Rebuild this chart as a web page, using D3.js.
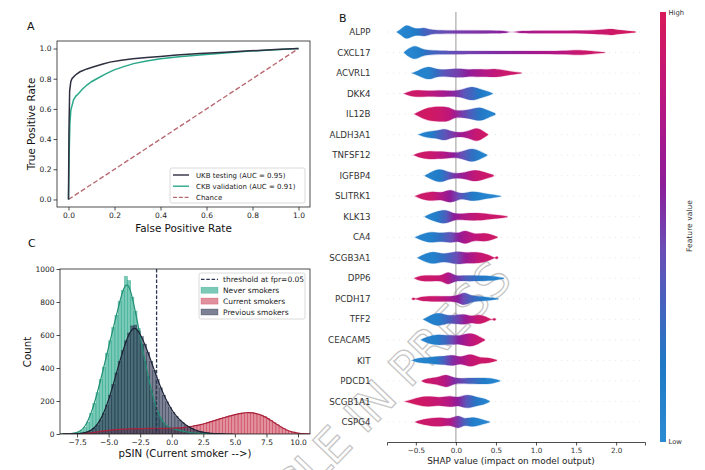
<!DOCTYPE html>
<html>
<head>
<meta charset="utf-8">
<script src="https://cdn.jsdelivr.net/npm/d3@7"></script>
<style>
  body { margin: 0; background: #fff; }
  svg { display: block; font-family: "DejaVu Sans", sans-serif; }
</style>
</head>
<body>
<svg id="chart" width="705" height="470"></svg>
<script>
// ---- Panel A: ROC curves ----
var rocTicks = [0, 0.2, 0.4, 0.6, 0.8, 1.0];
var ukbFpr = [0, 0.002, 0.005, 0.01, 0.015, 0.03, 0.05, 0.08, 0.11, 0.15, 0.18, 0.23, 0.28, 0.34, 0.40, 0.47, 0.57, 0.68, 0.79, 0.90, 1.0];
var ukbTpr = [0, 0.45, 0.72, 0.78, 0.80, 0.825, 0.846, 0.865, 0.879, 0.897, 0.910, 0.922, 0.932, 0.940, 0.948, 0.958, 0.967, 0.975, 0.985, 0.993, 1.0];
var ckbFpr = [0, 0.003, 0.006, 0.01, 0.015, 0.022, 0.032, 0.043, 0.06, 0.08, 0.10, 0.123, 0.16, 0.196, 0.24, 0.283, 0.34, 0.40, 0.48, 0.57, 0.68, 0.79, 0.90, 1.0];
var ckbTpr = [0, 0.30, 0.50, 0.59, 0.62, 0.66, 0.685, 0.70, 0.73, 0.758, 0.78, 0.80, 0.83, 0.857, 0.88, 0.90, 0.918, 0.932, 0.945, 0.958, 0.970, 0.983, 0.992, 1.0];
var rocLegend = ["UKB testing  (AUC = 0.95)", "CKB validation (AUC = 0.91)", "Chance"];

// ---- Panel C: pSIN histograms (bin width 0.25) ----
var binWidth = 0.25;
var histTicks = [-7.5, -5.0, -2.5, 0.0, 2.5, 5.0, 7.5, 10.0];
var countTicks = [0, 200, 400, 600, 800, 1000];
var threshold = -1.2;
var neverStart = -8.5;
var neverCounts = [2, 3, 4, 6, 10, 20, 40, 72, 125, 185,
                   250, 330, 405, 490, 565, 645, 720, 805, 870, 955,
                   930, 830, 745, 640, 545, 440, 350, 262, 190, 130,
                   90, 62, 46, 37, 31, 27, 22, 17, 13, 10,
                   7, 5, 4, 3, 2, 1, 1];
var currentStart = -7.75;
var currentCounts = [1, 1, 2, 3, 5, 7, 10, 13, 16, 19,
                     21, 23, 25, 27, 28, 29, 30, 31, 32, 32,
                     33, 33, 33, 34, 34, 34, 34, 34, 34, 34,
                     35, 35, 36, 37, 39, 41, 44, 47, 50, 54,
                     58, 63, 69, 75, 81, 87, 93, 99, 104, 110,
                     115, 120, 124, 127, 129, 132, 129, 126, 121, 114,
                     105, 94, 82, 69, 56, 43, 32, 23, 16, 10,
                     6, 4, 2, 1];
var previousStart = -7.75;
var previousCounts = [1, 2, 4, 7, 12, 20, 35, 55, 85, 125,
                      175, 235, 300, 370, 440, 505, 565, 612, 655, 660,
                      625, 590, 545, 495, 440, 385, 330, 280, 235, 195,
                      160, 130, 105, 85, 68, 53, 41, 31, 23, 17,
                      12, 8, 6, 4, 3, 2, 1];
var histLegend = ["threshold at fpr=0.05", "Never smokers", "Current smokers", "Previous smokers"];

// ---- Panel B: SHAP layered violins, knots = [shap value, relative density, feature value] ----
var features = ["ALPP", "CXCL17", "ACVRL1", "DKK4", "IL12B", "ALDH3A1", "TNFSF12", "IGFBP4", "SLITRK1", "KLK13",
                "CA4", "SCGB3A1", "DPP6", "PCDH17", "TFF2", "CEACAM5", "KIT", "PDCD1", "SCGB1A1", "CSPG4"];
var shapTicks = [-0.5, 0.0, 0.5, 1.0, 1.5, 2.0];
var shapProfiles = [
  [[-0.74,0,0.05],[-0.69,0.3,0.05],[-0.62,1.0,0.08],[-0.55,0.55,0.12],[-0.47,0.35,0.2],[-0.40,0.6,0.3],[-0.33,0.3,0.35],[-0.25,0.22,0.4],[0,0.2,0.5],[0.4,0.18,0.55],[0.62,0.15,0.6],[0.655,0,0.6],[0.70,0,0.65],[0.745,0,0.7],[0.78,0.15,0.7],[1.2,0.18,0.78],[1.6,0.15,0.85],[1.85,0.3,0.9],[1.93,0.42,0.92],[2.02,0.25,0.94],[2.24,0.05,0.95]],
  [[-0.65,0,0.05],[-0.6,0.45,0.05],[-0.51,0.95,0.08],[-0.44,0.5,0.15],[-0.37,0.3,0.25],[-0.2,0.22,0.35],[0,0.2,0.45],[0.5,0.18,0.55],[1.0,0.17,0.7],[1.35,0.2,0.8],[1.52,0.32,0.88],[1.62,0.25,0.9],[1.86,0.03,0.92]],
  [[-0.55,0,0.05],[-0.48,0.25,0.08],[-0.34,0.95,0.1],[-0.25,0.45,0.25],[-0.15,0.4,0.4],[0.03,0.6,0.5],[0.15,0.4,0.6],[0.26,0.5,0.7],[0.38,0.42,0.78],[0.5,0.55,0.85],[0.62,0.3,0.9],[0.82,0.03,0.92]],
  [[-0.65,0,0.9],[-0.58,0.3,0.92],[-0.47,0.45,0.92],[-0.36,0.32,0.85],[-0.22,0.42,0.75],[-0.1,0.35,0.65],[0.0,0.35,0.55],[0.1,0.55,0.4],[0.2,0.95,0.3],[0.3,0.55,0.18],[0.38,0.35,0.1],[0.46,0.03,0.05]],
  [[-0.52,0,0.92],[-0.45,0.35,0.92],[-0.35,0.85,0.95],[-0.2,0.95,0.9],[-0.08,0.9,0.82],[-0.02,0.4,0.7],[0.08,0.45,0.5],[0.18,0.55,0.35],[0.3,0.95,0.2],[0.4,0.45,0.1],[0.49,0.1,0.05]],
  [[-0.47,0,0.1],[-0.4,0.3,0.1],[-0.3,0.45,0.15],[-0.22,0.5,0.3],[-0.14,0.8,0.4],[-0.05,0.35,0.5],[0.05,0.25,0.65],[0.15,0.4,0.75],[0.26,0.95,0.88],[0.34,0.45,0.92],[0.4,0.05,0.95]],
  [[-0.53,0,0.92],[-0.46,0.3,0.92],[-0.33,0.55,0.9],[-0.22,0.42,0.82],[-0.14,0.45,0.75],[-0.03,0.28,0.6],[0.07,0.4,0.45],[0.2,0.95,0.25],[0.3,0.5,0.12],[0.39,0.05,0.08]],
  [[-0.39,0,0.1],[-0.33,0.35,0.1],[-0.2,0.95,0.15],[-0.1,0.45,0.35],[0.0,0.25,0.55],[0.12,0.4,0.7],[0.24,0.8,0.85],[0.35,0.45,0.9],[0.47,0.08,0.92]],
  [[-0.51,0,0.92],[-0.45,0.3,0.92],[-0.3,0.65,0.9],[-0.18,0.35,0.75],[-0.07,0.95,0.6],[0.03,0.35,0.45],[0.12,0.4,0.3],[0.22,0.65,0.15],[0.35,0.35,0.08],[0.45,0.22,0.05],[0.56,0.04,0.05]],
  [[-0.39,0,0.08],[-0.33,0.35,0.08],[-0.24,0.65,0.15],[-0.12,0.95,0.35],[-0.02,0.3,0.6],[0.1,0.42,0.75],[0.28,0.5,0.88],[0.42,0.3,0.9],[0.55,0.2,0.92],[0.64,0.05,0.95]],
  [[-0.51,0,0.08],[-0.44,0.35,0.08],[-0.3,0.75,0.12],[-0.2,0.45,0.25],[-0.05,0.75,0.45],[0.03,0.4,0.6],[0.11,1.0,0.72],[0.22,0.32,0.82],[0.36,0.58,0.9],[0.45,0.3,0.92],[0.52,0.04,0.95]],
  [[-0.48,0,0.08],[-0.42,0.35,0.08],[-0.28,0.9,0.1],[-0.16,0.35,0.25],[0.01,0.9,0.45],[0.12,0.6,0.65],[0.28,0.75,0.85],[0.4,0.4,0.9],[0.47,0.06,0.92],[0.49,0,0.95],[0.51,0.22,0.95],[0.53,0,0.95]],
  [[-0.52,0,0.92],[-0.45,0.35,0.92],[-0.3,0.38,0.9],[-0.17,0.28,0.85],[-0.1,0.95,0.75],[-0.01,0.25,0.55],[0.12,0.38,0.35],[0.3,0.32,0.2],[0.45,0.32,0.1],[0.6,0.04,0.05]],
  [[-0.55,0,0.95],[-0.53,0.22,0.95],[-0.51,0,0.95],[-0.48,0.1,0.92],[-0.42,0.3,0.92],[-0.25,0.35,0.88],[-0.1,0.3,0.75],[0.02,0.35,0.6],[0.1,0.95,0.45],[0.2,0.3,0.3],[0.35,0.28,0.15],[0.53,0.04,0.08]],
  [[-0.41,0,0.1],[-0.35,0.35,0.1],[-0.22,0.95,0.12],[-0.1,0.4,0.3],[0.04,0.6,0.5],[0.12,0.65,0.65],[0.2,0.35,0.78],[0.28,0.65,0.88],[0.37,0.35,0.92],[0.43,0.05,0.95],[0.46,0,0.95],[0.48,0.22,0.95],[0.5,0,0.95]],
  [[-0.44,0,0.1],[-0.37,0.35,0.1],[-0.24,0.7,0.12],[-0.12,0.55,0.3],[-0.05,0.62,0.45],[0.04,0.45,0.6],[0.18,0.95,0.8],[0.28,0.5,0.88],[0.36,0.06,0.92]],
  [[-0.55,0,0.05],[-0.48,0.3,0.05],[-0.35,0.35,0.1],[-0.25,0.5,0.15],[-0.14,0.5,0.35],[-0.04,0.75,0.55],[0.06,0.3,0.7],[0.18,0.95,0.85],[0.29,0.32,0.9],[0.38,0.4,0.92],[0.51,0.05,0.95]],
  [[-0.43,0,0.92],[-0.36,0.35,0.92],[-0.22,0.4,0.85],[-0.12,0.95,0.75],[-0.02,0.25,0.55],[0.15,0.38,0.35],[0.35,0.38,0.15],[0.45,0.35,0.08],[0.55,0.05,0.05]],
  [[-0.64,0,0.95],[-0.55,0.25,0.95],[-0.37,0.75,0.92],[-0.2,0.42,0.85],[-0.07,0.78,0.75],[0.02,0.4,0.6],[0.13,0.95,0.4],[0.25,0.55,0.2],[0.35,0.4,0.1],[0.42,0.05,0.05]],
  [[-0.51,0,0.92],[-0.42,0.35,0.92],[-0.2,0.65,0.88],[-0.07,0.32,0.75],[0.03,0.95,0.5],[0.1,0.32,0.35],[0.2,0.65,0.15],[0.3,0.4,0.08],[0.42,0.05,0.05]]
];

// ---- styles ----
var axisColor = '#222';
var ukbColor = '#2e2f40', ckbColor = '#2aa88a', chanceColor = '#b86a72';
var neverColor = '#2aa88a', currentColor = '#c9364e', previousColor = '#2b3550';
var cmapStops = [0, 0.18, 0.45, 0.6, 0.8, 1];
var cmapColors = ['#2a8bd2', '#1f79c6', '#6a4db6', '#8d1c99', '#bb1680', '#d81a58'];

var svg = d3.select('#chart');
var defs = svg.append('defs');

function styleAxis(g) {
  g.selectAll('path.domain').remove();
  g.selectAll('.tick line').attr('stroke', axisColor).attr('stroke-width', 0.8);
  g.selectAll('.tick text').attr('fill', axisColor).attr('font-family', '"DejaVu Sans", sans-serif');
}

function panelLabel(txt, x, y) {
  svg.append('text').attr('x', x).attr('y', y).attr('font-size', 11).attr('fill', '#111').text(txt);
}

// watermark sits behind the panels' text
svg.append('text').attr('transform', 'translate(514,281) rotate(-46)').attr('text-anchor', 'end')
  .attr('font-size', 47).attr('fill', 'none').attr('stroke', '#c6c6c6').attr('stroke-width', 1.3)
  .text('ARTICLE IN PRESS');

// ================= Panel A =================
var xA = d3.scaleLinear().domain([-0.05, 1.05]).range([57, 310]);
var yA = d3.scaleLinear().domain([-0.05, 1.05]).range([207, 41]);
var gA = svg.append('g');
panelLabel('A', 27, 30);

gA.append('g').attr('transform', 'translate(0,207)')
  .call(d3.axisBottom(xA).tickValues(rocTicks).tickFormat(d3.format('.1f')).tickSize(3.5).tickPadding(2))
  .call(styleAxis).selectAll('text').attr('font-size', 7.5);
gA.append('g').attr('transform', 'translate(57,0)')
  .call(d3.axisLeft(yA).tickValues(rocTicks).tickFormat(d3.format('.1f')).tickSize(3.5).tickPadding(2))
  .call(styleAxis).selectAll('text').attr('font-size', 7.5);

var rocLine = d3.line().x(function(d) { return xA(d[0]); }).y(function(d) { return yA(d[1]); });
gA.append('path').datum([[0, 0], [1, 1]]).attr('d', rocLine)
  .attr('fill', 'none').attr('stroke', chanceColor).attr('stroke-width', 1.4).attr('stroke-dasharray', '5,2.4');
gA.append('path').datum(d3.zip(ckbFpr, ckbTpr)).attr('d', rocLine)
  .attr('fill', 'none').attr('stroke', ckbColor).attr('stroke-width', 1.5);
gA.append('path').datum(d3.zip(ukbFpr, ukbTpr)).attr('d', rocLine)
  .attr('fill', 'none').attr('stroke', ukbColor).attr('stroke-width', 1.5);

gA.append('rect').attr('x', 57).attr('y', 41).attr('width', 253).attr('height', 166)
  .attr('fill', 'none').attr('stroke', axisColor).attr('stroke-width', 0.8);

gA.append('text').attr('x', 183.5).attr('y', 232).attr('text-anchor', 'middle').attr('font-size', 10.4)
  .attr('fill', '#111').text('False Positive Rate');
gA.append('text').attr('transform', 'translate(35,124) rotate(-90)').attr('text-anchor', 'middle')
  .attr('font-size', 10.4).attr('fill', '#111').text('True Positive Rate');

// legend A
var legA = gA.append('g');
legA.append('rect').attr('x', 170).attr('y', 168).attr('width', 135).attr('height', 35).attr('rx', 2)
  .attr('fill', '#fff').attr('fill-opacity', 0.8).attr('stroke', '#d0d0d0').attr('stroke-width', 0.8);
var legAStyles = [[ukbColor, null], [ckbColor, null], [chanceColor, '4,1.8']];
rocLegend.forEach(function(t, i) {
  var yy = 175 + i * 11.2;
  legA.append('line').attr('x1', 173).attr('x2', 189).attr('y1', yy).attr('y2', yy)
    .attr('stroke', legAStyles[i][0]).attr('stroke-width', 1.4).attr('stroke-dasharray', legAStyles[i][1]);
  legA.append('text').attr('x', 196).attr('y', yy + 2.5).attr('font-size', 7).attr('fill', '#222').text(t);
});

// ================= Panel C =================
var xC = d3.scaleLinear().domain([-8.85, 10.95]).range([60, 310]);
var yC = d3.scaleLinear().domain([0, 1000]).range([434, 269]);
var gC = svg.append('g');
panelLabel('C', 28, 247);

defs.append('clipPath').attr('id', 'clipC').append('rect')
  .attr('x', 60).attr('y', 269).attr('width', 250).attr('height', 165);

function binsOf(start, counts) {
  return counts.map(function(c, i) { return { x0: start + i * binWidth, n: c }; });
}

// kde-style smooth line from the bin counts (binomial kernel, like a small gaussian)
function smoothOf(bins) {
  var k = [1, 4, 6, 4, 1];
  var pad = [];
  for (var i = -4; i < 0; i++) pad.push({ x0: bins[0].x0 + i * binWidth, n: 0 });
  var ext = pad.concat(bins);
  for (var j = 1; j <= 4; j++) ext.push({ x0: bins[bins.length - 1].x0 + j * binWidth, n: 0 });
  return ext.map(function(b, i) {
    var s = 0;
    for (var m = -2; m <= 2; m++) {
      var e = ext[i + m];
      if (e) s += e.n * k[m + 2];
    }
    return [b.x0 + binWidth / 2, s / 16];
  });
}

var histSeries = [
  { bins: binsOf(neverStart, neverCounts), color: neverColor, alpha: 0.62, line: '#1f8f74' },
  { bins: binsOf(currentStart, currentCounts), color: currentColor, alpha: 0.55, line: '#a8233c' },
  { bins: binsOf(previousStart, previousCounts), color: previousColor, alpha: 0.62, line: '#1b2236' }
];

var histG = gC.append('g').attr('clip-path', 'url(#clipC)');
histSeries.forEach(function(s) {
  histG.append('g').selectAll('rect').data(s.bins).join('rect')
    .attr('x', function(d) { return xC(d.x0); })
    .attr('width', function(d) { return xC(d.x0 + binWidth) - xC(d.x0); })
    .attr('y', function(d) { return yC(d.n); })
    .attr('height', function(d) { return yC(0) - yC(d.n); })
    .attr('fill', s.color).attr('fill-opacity', s.alpha)
    .attr('stroke', s.color).attr('stroke-opacity', 0.75).attr('stroke-width', 0.5);
});
var kdeLine = d3.line().x(function(d) { return xC(d[0]); }).y(function(d) { return yC(d[1]); }).curve(d3.curveBasis);
histSeries.forEach(function(s) {
  histG.append('path').datum(smoothOf(s.bins)).attr('d', kdeLine)
    .attr('fill', 'none').attr('stroke', s.line).attr('stroke-width', 1.2);
});

gC.append('line').attr('x1', xC(threshold)).attr('x2', xC(threshold)).attr('y1', 269).attr('y2', 434)
  .attr('stroke', previousColor).attr('stroke-width', 1.3).attr('stroke-dasharray', '3.5,1.8');

gC.append('g').attr('transform', 'translate(0,434)')
  .call(d3.axisBottom(xC).tickValues(histTicks).tickFormat(d3.format('.1f')).tickSize(3.5).tickPadding(2))
  .call(styleAxis).selectAll('text').attr('font-size', 7.5);
gC.append('g').attr('transform', 'translate(60,0)')
  .call(d3.axisLeft(yC).tickValues(countTicks).tickFormat(d3.format('d')).tickSize(3.5).tickPadding(2))
  .call(styleAxis).selectAll('text').attr('font-size', 7.5);
gC.append('rect').attr('x', 60).attr('y', 269).attr('width', 250).attr('height', 165)
  .attr('fill', 'none').attr('stroke', axisColor).attr('stroke-width', 0.8);

gC.append('text').attr('x', 185).attr('y', 457).attr('text-anchor', 'middle').attr('font-size', 10.2)
  .attr('fill', '#111').text('pSIN (Current smoker -->)');
gC.append('text').attr('transform', 'translate(31,352) rotate(-90)').attr('text-anchor', 'middle')
  .attr('font-size', 10.2).attr('fill', '#111').text('Count');

// legend C
var legC = gC.append('g');
legC.append('rect').attr('x', 199).attr('y', 273).attr('width', 106).attr('height', 46).attr('rx', 2)
  .attr('fill', '#fff').attr('fill-opacity', 0.8).attr('stroke', '#d0d0d0').attr('stroke-width', 0.8);
histLegend.forEach(function(t, i) {
  var yy = 279.3 + i * 10.9;
  if (i === 0) {
    legC.append('line').attr('x1', 201).attr('x2', 218).attr('y1', yy).attr('y2', yy)
      .attr('stroke', previousColor).attr('stroke-width', 1.3).attr('stroke-dasharray', '3.5,1.8');
  } else {
    var s = histSeries[[0, 0, 1, 2][i]];
    legC.append('rect').attr('x', 201).attr('y', yy - 3).attr('width', 17).attr('height', 6)
      .attr('fill', s.color).attr('fill-opacity', s.alpha).attr('stroke', s.color).attr('stroke-opacity', 0.6).attr('stroke-width', 0.5);
  }
  legC.append('text').attr('x', 223).attr('y', yy + 2.6).attr('font-size', 7.5).attr('fill', '#222').text(t);
});

// ================= Panel B =================
var xB = d3.scaleLinear().domain([-0.86, 2.36]).range([387, 645]);
var yB = d3.scalePoint().domain(features).range([32, 422]);
var densW = d3.scaleLinear().domain([0, 1]).range([0, 8]);
var featureColor = d3.scaleLinear().domain(cmapStops).range(cmapColors);
var gB = svg.append('g');
panelLabel('B', 339, 22);

// row guides
gB.append('g').selectAll('line').data(features).join('line')
  .attr('x1', 387).attr('x2', 645)
  .attr('y1', function(d) { return yB(d); }).attr('y2', function(d) { return yB(d); })
  .attr('stroke', '#cccccc').attr('stroke-width', 0.5).attr('stroke-dasharray', '1,5');

gB.append('line').attr('x1', xB(0)).attr('x2', xB(0)).attr('y1', 12).attr('y2', 442)
  .attr('stroke', '#999').attr('stroke-width', 1);

var violinArea = d3.area().curve(d3.curveBasis);
features.forEach(function(name, i) {
  var prof = shapProfiles[i];
  var y0 = yB(name);
  var xa = xB(prof[0][0]), xb = xB(prof[prof.length - 1][0]);
  var grad = defs.append('linearGradient').attr('id', 'vgrad' + i)
    .attr('gradientUnits', 'userSpaceOnUse').attr('x1', xa).attr('x2', xb).attr('y1', 0).attr('y2', 0);
  prof.forEach(function(k) {
    grad.append('stop').attr('offset', (xB(k[0]) - xa) / (xb - xa)).attr('stop-color', featureColor(k[2]));
  });
  violinArea
    .x(function(d) { return xB(d[0]); })
    .y0(function(d) { return y0 - densW(d[1]); })
    .y1(function(d) { return y0 + densW(d[1]); });
  gB.append('path').datum(prof).attr('d', violinArea)
    .attr('fill', 'url(#vgrad' + i + ')')
    .attr('stroke', 'url(#vgrad' + i + ')').attr('stroke-opacity', 0.25).attr('stroke-width', 1.2);
});

gB.append('g').selectAll('text').data(features).join('text')
  .attr('x', 370.5).attr('y', function(d) { return yB(d) + 3.1; })
  .attr('text-anchor', 'end').attr('font-size', 8.7).attr('fill', '#333')
  .text(function(d) { return d; });

var axB = gB.append('g').attr('transform', 'translate(0,442)')
  .call(d3.axisBottom(xB).tickValues(shapTicks).tickFormat(d3.format('.1f')).tickSize(3.5).tickPadding(2));
axB.select('path.domain').attr('stroke', axisColor).attr('stroke-width', 0.8);
axB.selectAll('.tick line').attr('stroke', axisColor).attr('stroke-width', 0.8);
axB.selectAll('.tick text').attr('fill', '#333').attr('font-size', 7.2).attr('font-family', '"DejaVu Sans", sans-serif');

gB.append('text').attr('x', 511).attr('y', 464).attr('text-anchor', 'middle').attr('font-size', 8.9)
  .attr('fill', '#222').text('SHAP value (impact on model output)');

// colour bar
var cbar = defs.append('linearGradient').attr('id', 'cbar').attr('x1', 0).attr('x2', 0).attr('y1', 1).attr('y2', 0);
cmapStops.forEach(function(s, i) {
  cbar.append('stop').attr('offset', s).attr('stop-color', cmapColors[i]);
});
gB.append('rect').attr('x', 660).attr('y', 12).attr('width', 6).attr('height', 430).attr('fill', 'url(#cbar)');
gB.append('text').attr('x', 668.5).attr('y', 15).attr('font-size', 6.8).attr('fill', '#333').text('High');
gB.append('text').attr('x', 668.5).attr('y', 444).attr('font-size', 6.8).attr('fill', '#333').text('Low');
gB.append('text').attr('transform', 'translate(692,226) rotate(-90)').attr('text-anchor', 'middle')
  .attr('font-size', 7.6).attr('fill', '#333').text('Feature value');
</script>
</body>
</html>
